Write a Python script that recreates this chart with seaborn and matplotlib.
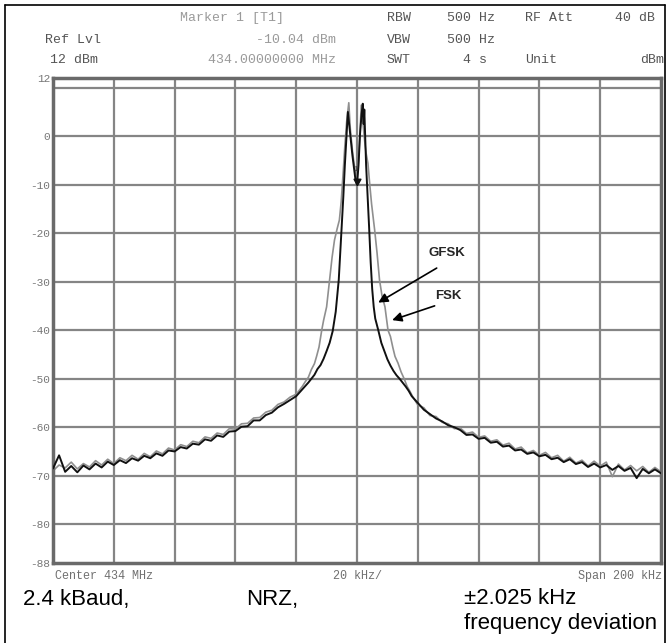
import matplotlib
matplotlib.use("Agg")
import matplotlib.pyplot as plt
import seaborn as sns
import pandas as pd
from matplotlib.lines import Line2D

# ---------------- data ----------------
gfsk_freq = [-100, -98, -96, -94, -92, -90, -88, -86, -84, -82,
             -80, -78, -76, -74, -72, -70, -68, -66, -64, -62,
             -60, -58, -56, -54, -52, -50, -48, -46, -44, -42,
             -40, -38, -36, -34, -32, -30, -28, -26, -24, -22,
             -20, -18, -16, -14, -13, -12, -11, -10, -9, -8,
             -7, -6.5, -6, -5.5, -5, -4.5, -4, -3.5, -3, -2.5,
             -2, -1.5, -1, -0.5, 0, 0.5, 1, 1.5, 1.9, 2.2,
             2.4, 3, 3.5, 4, 4.5, 5, 5.5, 6, 7, 8,
             9, 10, 11, 12, 13, 14, 15, 16, 17, 18,
             20, 22, 24, 26, 28, 30, 32, 34, 36, 38,
             40, 42, 44, 46, 48, 50, 52, 54, 56, 58,
             60, 62, 64, 66, 68, 70, 72, 74, 76, 78,
             80, 82, 84, 86, 88, 90, 92, 94, 96, 98,
             100]
gfsk_level = [-68.5, -65.8, -69.2, -68.0, -69.3, -67.9, -68.7, -67.5, -68.3, -67.1,
              -67.8, -66.8, -67.4, -66.4, -66.9, -65.9, -66.4, -65.4, -65.9, -64.8,
              -65.0, -64.1, -64.4, -63.4, -63.6, -62.5, -62.8, -61.7, -62.0, -60.9,
              -60.8, -59.9, -59.8, -58.6, -58.6, -57.5, -57.0, -55.9, -55.2, -54.4,
              -53.6, -52.2, -50.8, -49.2, -48.0, -47.2, -45.9, -44.3, -42.6, -40.2,
              -36.2, -33.0, -29.6, -24.0, -18.5, -12.5, -6.0, -0.5, 5.0, 2.0,
              -1.0, -4.0, -6.5, -9.0, -10.0, -6.0, 0.5, 4.5, 6.7, 2.5,
              5.5, -6.0, -12.5, -19.0, -26.0, -31.5, -35.2, -37.6, -40.0, -42.6,
              -44.3, -46.0, -47.3, -48.4, -49.3, -50.0, -50.8, -51.6, -52.5, -53.6,
              -55.0, -56.4, -57.3, -58.2, -58.8, -59.6, -60.0, -60.6, -61.6, -61.5,
              -62.4, -62.2, -63.2, -63.0, -64.0, -63.8, -64.8, -64.6, -65.5, -65.2,
              -66.0, -65.7, -66.6, -66.3, -67.2, -66.6, -67.6, -67.2, -68.2, -67.5,
              -68.3, -67.8, -68.8, -68.0, -69.0, -68.4, -70.5, -68.6, -69.5, -68.7,
              -69.5]

fsk_freq = [-100, -98, -96, -94, -92, -90, -88, -86, -84, -82,
            -80, -78, -76, -74, -72, -70, -68, -66, -64, -62,
            -60, -58, -56, -54, -52, -50, -48, -46, -44, -42,
            -40, -38, -36, -34, -32, -30, -28, -26, -24, -22,
            -20, -18, -17, -16, -15, -14, -13.3, -12.5, -11.6, -11,
            -10, -9, -8.2, -7.4, -6.5, -5.8, -5.2, -4.5, -4, -3.4,
            -2.7, -2.2, -1.5, -1, -0.5, 0, 0.5, 1, 1.4, 2,
            2.6, 3, 3.6, 4.2, 4.8, 5.8, 6.6, 7.4, 8.2, 9.2,
            10.2, 11, 11.8, 12.5, 13.5, 14.5, 15.5, 16.5, 17.5, 18.4,
            20, 22, 24, 26, 28, 30, 32, 34, 36, 38,
            40, 42, 44, 46, 48, 50, 52, 54, 56, 58,
            60, 62, 64, 66, 68, 70, 72, 74, 76, 78,
            80, 82, 84, 86, 88, 90, 92, 94, 96, 98,
            100]
fsk_level = [-69.0, -67.8, -68.4, -67.2, -68.6, -67.5, -68.2, -66.9, -67.8, -66.6,
             -67.5, -66.3, -66.9, -65.8, -66.6, -65.4, -66.1, -64.9, -65.5, -64.3,
             -64.7, -63.6, -64.0, -62.9, -63.2, -62.0, -62.3, -61.2, -61.5, -60.3,
             -60.4, -59.3, -59.2, -58.1, -58.0, -56.9, -56.5, -55.3, -54.8, -53.8,
             -53.2, -51.6, -50.6, -49.7, -48.1, -46.9, -45.4, -43.5, -40.0, -38.0,
             -35.2, -29.6, -25.0, -21.4, -19.0, -17.3, -13.5, -7.0, -2.0, 3.0,
             6.9, 1.5, -3.0, -5.5, -7.5, -8.5, -5.0, 1.0, 6.4, 2.5,
             -1.5, -3.5, -5.6, -10.0, -14.0, -19.3, -24.1, -29.6, -32.8, -35.2,
             -40.0, -41.3, -43.6, -45.4, -46.8, -48.6, -50.0, -51.6, -52.7, -53.8,
             -55.4, -56.0, -57.6, -57.8, -59.0, -59.3, -60.3, -60.2, -61.3, -61.0,
             -62.1, -61.8, -62.9, -62.6, -63.7, -63.3, -64.5, -64.1, -65.3, -64.8,
             -65.8, -65.2, -66.3, -65.8, -67.0, -66.2, -67.4, -66.8, -68.0, -67.0,
             -68.0, -67.2, -70.2, -67.6, -68.8, -67.9, -69.0, -68.1, -69.3, -68.3,
             -69.2]

marker_freq = 0.0
marker_level = -10.04

ytick_values = [12, 0, -10, -20, -30, -40, -50, -60, -70, -80, -88]
ytick_labels = ["12", "0", "-10", "-20", "-30", "-40", "-50", "-60", "-70", "-80", "-88"]
hgrid_values = [10, 0, -10, -20, -30, -40, -50, -60, -70, -80]
vgrid_values = [-80, -60, -40, -20, 0, 20, 40, 60, 80]

# ---------------- figure ----------------
sns.set_style("white")
plt.rcParams['font.family'] = ['Liberation Mono', 'DejaVu Sans']

W, H = 668, 643
fig = plt.figure(figsize=(W / 100, H / 100), dpi=100)
fig.patch.set_facecolor("white")

L, R, T, B = 53, 661, 78, 563
ax = fig.add_axes([L / W, 1 - B / H, (R - L) / W, (B - T) / H])

grid_c = "#858585"
for v in vgrid_values:
    ax.axvline(v, color=grid_c, lw=1.6, zorder=0)
for h in hgrid_values:
    ax.axhline(h, color=grid_c, lw=1.6, zorder=0)

df_fsk = pd.DataFrame({"freq": fsk_freq, "level": fsk_level})
df_gfsk = pd.DataFrame({"freq": gfsk_freq, "level": gfsk_level})
sns.lineplot(data=df_fsk, x="freq", y="level", ax=ax, color="#8f8f8f",
             lw=1.2, estimator=None, sort=False, zorder=2)
sns.lineplot(data=df_gfsk, x="freq", y="level", ax=ax, color="#111111",
             lw=1.4, estimator=None, sort=False, zorder=3)

# marker (tip at the marker level)
ax.plot([marker_freq], [marker_level], marker=[(0, 0), (-0.6, 1.1), (0.6, 1.1), (0, 0)],
        ms=9, color="#111111", zorder=4, linestyle="none")
ax.text(marker_freq - 0.4, marker_level + 3.2, "1", fontsize=5, color="#333333",
        ha="center", va="center", zorder=4)

ax.set_xlim(-100, 100)
ax.set_ylim(-88, 12)
ax.set_xlabel("")
ax.set_ylabel("")
ax.set_xticks([])
ax.set_yticks(ytick_values)
ax.set_yticklabels(ytick_labels)
ax.tick_params(axis="y", length=0, pad=2, labelsize=8, labelcolor="#777777")
for s in ax.spines.values():
    s.set_color("#6a6a6a")
    s.set_linewidth(2.5)

# annotations
ax.annotate("", xy=(6.2, -34.6), xytext=(27.0, -26.9),
            arrowprops=dict(arrowstyle="-|>", color="black", lw=1.2, mutation_scale=14))
ax.annotate("", xy=(10.7, -38.1), xytext=(26.4, -34.8),
            arrowprops=dict(arrowstyle="-|>", color="black", lw=1.2, mutation_scale=14))
ax.text(29.4, -24.0, "GFSK", fontsize=9.5, fontweight="bold", family="Liberation Sans",
        ha="center", va="center")
ax.text(30.0, -33.0, "FSK", fontsize=9.5, fontweight="bold", family="Liberation Sans",
        ha="center", va="center")


def ftext(x, y, s, color="#666666", ha="left", size=9.5, family=None, **kw):
    kws = dict(ha=ha, va="center", color=color, fontsize=size)
    if family:
        kws["family"] = family
    kws.update(kw)
    fig.text(x / W, 1 - y / H, s, **kws)


light = "#9a9a9a"
dark = "#555555"
# header row 1
ftext(180, 18, "Marker 1 [T1]", color=light)
ftext(387, 18, "RBW", color=dark)
ftext(447, 18, "500 Hz", color=dark)
ftext(525, 18, "RF Att", color=dark)
ftext(615, 18, "40 dB", color=dark)
# header row 2
ftext(45, 40, "Ref Lvl", color=dark)
ftext(336, 40, "-10.04 dBm", color=light, ha="right")
ftext(387, 40, "VBW", color=dark)
ftext(447, 40, "500 Hz", color=dark)
# header row 3
ftext(50, 60, "12 dBm", color=dark)
ftext(336, 60, "434.00000000 MHz", color=light, ha="right")
ftext(387, 60, "SWT", color=dark)
ftext(487, 60, "4 s", color=dark, ha="right")
ftext(525, 60, "Unit", color=dark)
ftext(664, 60, "dBm", color=dark, ha="right")

# bottom axis texts
ftext(55, 576, "Center 434 MHz", color="#707070", size=8.5)
ftext(358, 576, "20 kHz/", color="#707070", size=8.5, ha="center")
ftext(662, 576, "Span 200 kHz", color="#707070", size=8.5, ha="right")

# caption
ftext(23, 599, "2.4 kBaud,", color="black", size=16, family="Liberation Sans")
ftext(246, 599, "NRZ,", color="black", size=16, family="Liberation Sans")
ftext(464, 599, "\u00b12.025 kHz", color="black", size=16, family="Liberation Sans")
ftext(464, 624, "frequency deviation", color="black", size=16, family="Liberation Sans")

# outer frame
for xs, ys in [((5, 5), (5, 643)), ((5, 665), (5, 5)), ((665, 665), (5, 643))]:
    fig.add_artist(Line2D([x / W for x in xs], [1 - y / H for y in ys],
                          transform=fig.transFigure, color="black", lw=1.2))

fig.savefig("out.png", dpi=100)
